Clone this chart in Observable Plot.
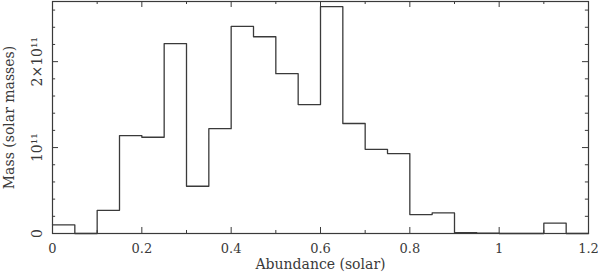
<!DOCTYPE html>
<html><head><meta charset="utf-8">
<script src="https://cdn.jsdelivr.net/npm/d3@7"></script>
<script src="https://cdn.jsdelivr.net/npm/@observablehq/plot@0.6"></script>
<style>body{margin:0;background:#fff}svg{display:block}</style>
</head><body><div id="chart"></div>
<script>
// bin starts (solar abundance), bin width 0.05
const binStart = [0,0.05,0.1,0.15,0.2,0.25,0.3,0.35,0.4,0.45,0.5,0.55,0.6,0.65,0.7,0.75,0.8,0.85,0.9,0.95,1.0,1.05,1.1,1.15];
// mass in solar masses
const mass = [0.10e11,0,0.27e11,1.14e11,1.12e11,2.21e11,0.55e11,1.22e11,2.41e11,2.29e11,1.86e11,1.50e11,2.64e11,1.28e11,0.98e11,0.93e11,0.22e11,0.24e11,0.01e11,0.004e11,0,0,0.12e11,0];
const binWidth = 0.05;
const xMajor = [0,0.2,0.4,0.6,0.8,1,1.2];
const xMinor = [0.1,0.3,0.5,0.7,0.9,1.1];
const yMajor = [0,1e11,2e11];
const yMinor = [0.2e11,0.4e11,0.6e11,0.8e11,1.2e11,1.4e11,1.6e11,1.8e11,2.2e11,2.4e11,2.6e11];
const yLabels = ["0","10¹¹","2×10¹¹"];

const pts = binStart.map((x,i)=>({x, y: mass[i]}));
pts.push({x: binStart[binStart.length-1]+binWidth, y: mass[mass.length-1]});

const font = "DejaVu Serif";
const ink = "#3a3a3a";
const xMax = 1.2, yMax = 2.7e11;
const tx = 0.0135, txm = 0.007; // y-axis tick lengths in x units
const ty = 0.07e11, tym = 0.035e11; // x-axis tick lengths in y units

const chart = Plot.plot({
  width: 598, height: 273,
  marginLeft: 52, marginRight: 10, marginTop: 1, marginBottom: 40,
  style: {fontFamily: font, fontSize: "14px", color: ink, background: "#fff"},
  x: {domain: [0, xMax], label: null},
  y: {domain: [0, yMax], axis: null, label: null},
  marks: [
    Plot.frame({stroke: ink, strokeWidth: 1.2}),
    Plot.ruleX(xMajor, {y1: 0, y2: ty, stroke: ink}),
    Plot.ruleX(xMinor, {y1: 0, y2: tym, stroke: ink}),
    Plot.ruleX(xMajor, {y1: yMax, y2: yMax-ty, stroke: ink}),
    Plot.ruleX(xMinor, {y1: yMax, y2: yMax-tym, stroke: ink}),
    Plot.ruleY(yMajor, {x1: 0, x2: tx, stroke: ink}),
    Plot.ruleY(yMinor, {x1: 0, x2: txm, stroke: ink}),
    Plot.ruleY(yMajor, {x1: xMax, x2: xMax-tx, stroke: ink}),
    Plot.ruleY(yMinor, {x1: xMax, x2: xMax-txm, stroke: ink}),
    Plot.line(pts, {x: "x", y: "y", curve: "step-after", stroke: ink, strokeWidth: 1.3}),
    Plot.axisX(xMajor, {tickSize: 0, tickPadding: 10, tickFormat: d => String(d), fontSize: 13, label: null}),
    Plot.text(yMajor, {x: 0, y: d => d, text: (d,i) => yLabels[i], rotate: -90, dx: -15, fontSize: 14, fill: ink}),
    Plot.text(["Abundance (solar)"], {x: xMax/2, y: 0, dy: 31, text: d => d, fontSize: 14, fill: ink, style: {letterSpacing: "0.3px"}}),
    Plot.text(["Mass (solar masses)"], {x: 0, y: yMax/2, dx: -43, text: d => d, rotate: -90, fontSize: 14, fill: ink})
  ]
});
document.getElementById("chart").append(chart);
</script></body></html>
